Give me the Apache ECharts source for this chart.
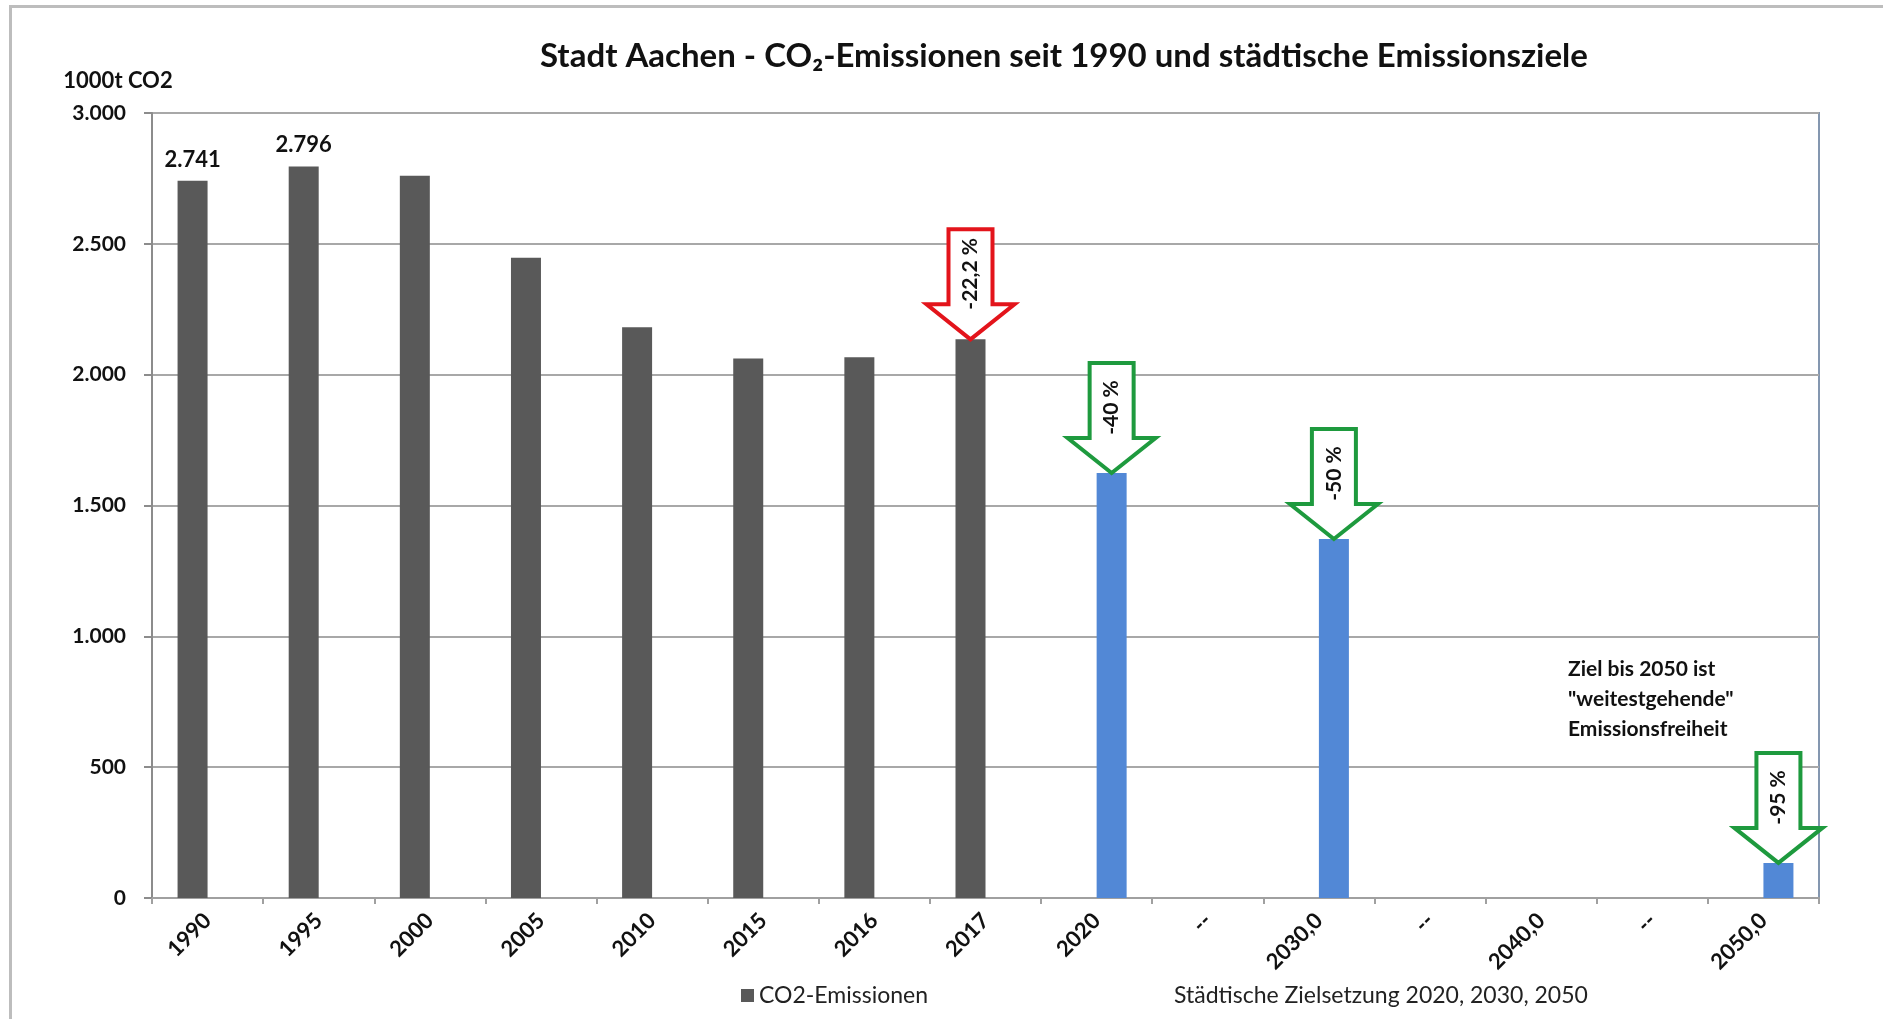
<!DOCTYPE html>
<html>
<head>
<meta charset="utf-8">
<script src="https://cdn.jsdelivr.net/npm/echarts/dist/echarts.min.js"></script>
<style>html,body{margin:0;padding:0;background:#fff;}#c{width:1883px;height:1019px;}</style>
</head>
<body>
<div id="c"></div>
<script>
// ---- data ----
const categories = ['1990','1995','2000','2005','2010','2015','2016','2017','2020','--','2030,0','--','2040,0','--','2050,0'];
const co2Values  = [2741, 2796, 2760, 2447, 2181, 2062, 2067, 2135, null, null, null, null, null, null, null];
const zielValues = [null, null, null, null, null, null, null, null, 1624, null, 1372, null, null, null, 134];
const co2LabelIdx = [0, 1];
const yTicks = [0, 500, 1000, 1500, 2000, 2500, 3000];
const arrowCats   = [7, 8, 10, 14];
const arrowSeries = ['co2', 'ziel', 'ziel', 'ziel'];
const arrowLabels = ['-22,2 %', '-40 %', '-50 %', '-95 %'];
const seriesNames = { co2: 'CO2-Emissionen', ziel: 'Städtische Zielsetzung 2020, 2030, 2050' };

// ---- style ----
const FONT = 'Lato, "Open Sans", sans-serif';
const BAR_W = 30;
const arrowColor = { co2: '#e3141b', ziel: '#1e9a3e' };
const seriesSide = { co2: -1, ziel: 1 };
const valueOf = { co2: co2Values, ziel: zielValues };

function fmtDE(v) {
  return String(Math.round(v)).replace(/\B(?=(\d{3})+(?!\d))/g, '.');
}

const arrowData = arrowCats.map((c, i) => [c, valueOf[arrowSeries[i]][c], seriesSide[arrowSeries[i]], i]);

const chart = echarts.init(document.getElementById('c'), null, { renderer: 'canvas' });
chart.setOption({
  animation: false,
  backgroundColor: '#fff',
  title: {
    text: 'Stadt Aachen - CO₂-Emissionen seit 1990 und städtische Emissionsziele',
    left: 535, top: 35,
    textStyle: { fontFamily: FONT, fontWeight: 'bold', fontSize: 33, color: '#111' }
  },
  legend: [
    { data: [seriesNames.co2], left: 736, top: 979, itemWidth: 13, itemHeight: 13, icon: 'rect',
      textStyle: { fontFamily: FONT, fontSize: 23, color: '#222' } },
    { data: [seriesNames.ziel], left: 1163, top: 979, itemWidth: 1, itemHeight: 1, icon: 'rect',
      itemStyle: { opacity: 0 },
      textStyle: { fontFamily: FONT, fontSize: 23, color: '#222' } }
  ],
  grid: { left: 152, right: 64, top: 113, bottom: 121, show: true, borderColor: '#8497b0', borderWidth: 2, backgroundColor: 'transparent' },
  xAxis: {
    type: 'category',
    data: categories,
    axisLine: { lineStyle: { color: '#a0a0a0', width: 2 } },
    axisTick: { show: true, length: 6, lineStyle: { color: '#a0a0a0', width: 2 } },
    axisLabel: { interval: 0, rotate: 45, margin: 19, fontFamily: FONT, fontWeight: 'bold', fontSize: 22, color: '#111' }
  },
  yAxis: {
    type: 'value', min: 0, max: 3000, interval: 500,
    name: '1000t CO2', nameLocation: 'end', nameGap: 21,
    nameTextStyle: { fontFamily: FONT, fontWeight: 'bold', fontSize: 22, color: '#111', align: 'center', padding: [0, 68, 0, 0] },
    axisLine: { show: true, lineStyle: { color: '#8c8c8c', width: 2 } },
    axisTick: { show: true, length: 8, lineStyle: { color: '#8c8c8c', width: 2 } },
    splitLine: { lineStyle: { color: '#a8a8a8', width: 2 } },
    axisLabel: { margin: 26, fontFamily: FONT, fontWeight: 'bold', fontSize: 21, color: '#111',
      formatter: v => yTicks.indexOf(v) >= 0 ? fmtDE(v) : '' }
  },
  series: [
    {
      name: seriesNames.co2, type: 'bar', barWidth: BAR_W, barGap: '0%',
      itemStyle: { color: '#595959' },
      data: co2Values.map((v, i) => ({
        value: v,
        label: { show: co2LabelIdx.indexOf(i) >= 0, position: 'top', distance: 10,
          formatter: p => fmtDE(p.value), fontFamily: FONT, fontWeight: 'bold', fontSize: 22, color: '#111' }
      }))
    },
    {
      name: seriesNames.ziel, type: 'bar', barWidth: BAR_W, barGap: '0%',
      itemStyle: { color: '#5288d6' },
      data: zielValues
    },
    {
      type: 'custom', z: 10, silent: true,
      data: arrowData,
      renderItem: function (params, api) {
        const p = api.coord([api.value(0), api.value(1)]);
        const x = p[0] + api.value(2) * BAR_W / 2;
        const tip = p[1];
        const i = api.value(3);
        const H = 110, HH = 35, SW = 22, HW = 44;
        const top = tip - H, hy = tip - HH;
        const col = arrowColor[arrowSeries[i]];
        return {
          type: 'group',
          children: [
            { type: 'polygon',
              shape: { points: [[x - SW, top], [x + SW, top], [x + SW, hy], [x + HW, hy], [x, tip], [x - HW, hy], [x - SW, hy]] },
              style: { fill: '#fff', stroke: col, lineWidth: 4, lineJoin: 'miter' } },
            { type: 'text', x: x, y: top + (H - HH) / 2 + 7, rotation: Math.PI / 2,
              style: { text: arrowLabels[i], fill: '#111', fontFamily: FONT, fontWeight: 'bold', fontSize: 21,
                align: 'center', verticalAlign: 'middle' } }
          ]
        };
      }
    }
  ],
  graphic: [
    { type: 'rect', left: 8, top: 4, silent: true, z: -10,
      shape: { width: 1900, height: 1100 },
      style: { fill: 'none', stroke: '#bdbdbd', lineWidth: 3 } },
    { type: 'text', left: 1568, top: 654, z: 20,
      style: { text: 'Ziel bis 2050 ist\n"weitestgehende"\nEmissionsfreiheit', fill: '#111',
        fontFamily: FONT, fontWeight: 'bold', fontSize: 21, lineHeight: 30 } }
  ]
});
</script>
</body>
</html>
